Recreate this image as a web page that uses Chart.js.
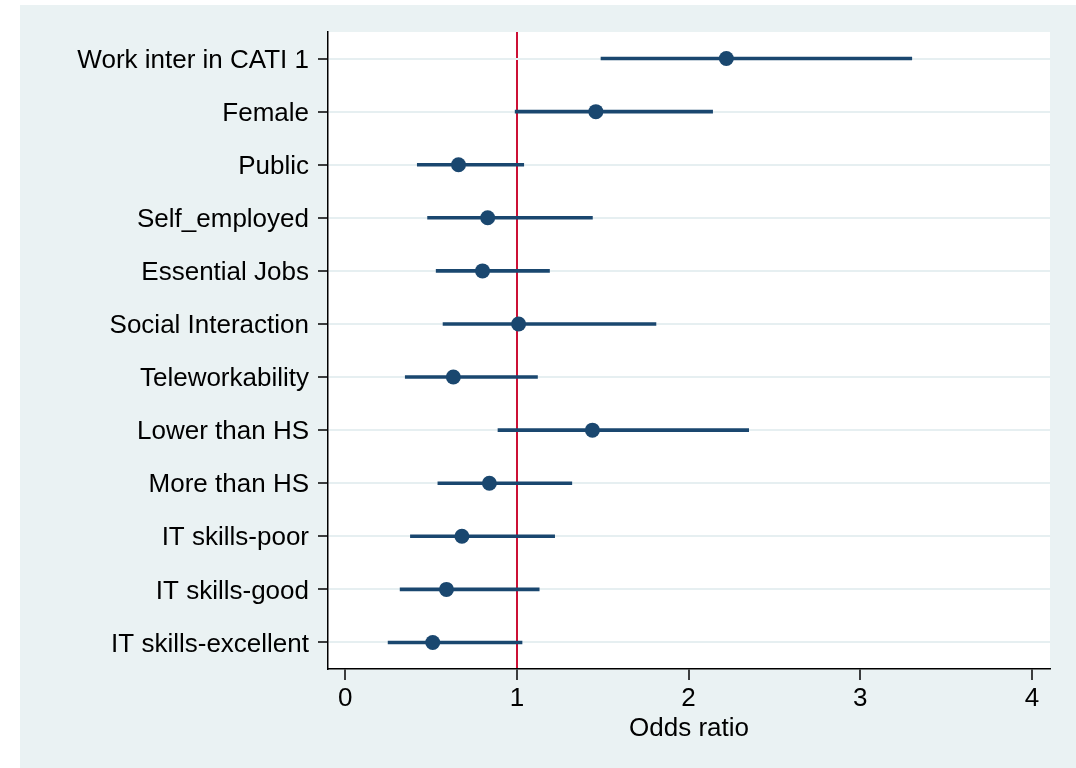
<!DOCTYPE html>
<html>
<head>
<meta charset="utf-8">
<script src="https://cdn.jsdelivr.net/npm/chart.js@4/dist/chart.umd.min.js"></script>
<style>
  html, body { margin: 0; padding: 0; background: #fff; }
  #wrap { position: absolute; left: 20px; top: 5px; width: 1056px; height: 763px; background: #eaf2f3; }
</style>
</head>
<body>
<div id="wrap"><canvas id="myChart" width="1056" height="763"></canvas></div>
<script>
// data
var labels = ['Work inter in CATI 1', 'Female', 'Public', 'Self_employed', 'Essential Jobs',
  'Social Interaction', 'Teleworkability', 'Lower than HS', 'More than HS',
  'IT skills-poor', 'IT skills-good', 'IT skills-excellent'];
var oddsRatio = [2.22, 1.46, 0.66, 0.83, 0.80, 1.01, 0.63, 1.44, 0.84, 0.68, 0.59, 0.51];
var ciLow  = [1.49, 0.99, 0.42, 0.48, 0.53, 0.57, 0.35, 0.89, 0.54, 0.38, 0.32, 0.25];
var ciHigh = [3.30, 2.14, 1.04, 1.44, 1.19, 1.81, 1.12, 2.35, 1.32, 1.22, 1.13, 1.03];
var xTicks = [0, 1, 2, 3, 4];
var refLine = 1;

var navy = '#1a476f';
var font = { family: '"Liberation Sans", Arial, Helvetica, sans-serif', size: 26 };

// white plot region
var plotBg = {
  id: 'plotBg',
  beforeDraw: function(chart) {
    var a = chart.chartArea, c = chart.ctx;
    c.save();
    c.fillStyle = '#fff';
    c.fillRect(a.left, a.top, a.right - a.left, a.bottom - a.top);
    c.restore();
  }
};

var ciData = [];
for (var i = 0; i < labels.length; i++) ciData.push([ciLow[i], ciHigh[i]]);

var ctx = document.getElementById('myChart').getContext('2d');
var chart = new Chart(ctx, {
  type: 'bar',
  data: {
    labels: labels,
    datasets: [
      { type: 'line', data: oddsRatio, showLine: false, pointRadius: 7.5, pointHoverRadius: 7.5,
        pointBackgroundColor: navy, pointBorderWidth: 0, order: 0 },
      { type: 'bar', data: ciData, backgroundColor: navy, borderWidth: 0,
        barThickness: 3, order: 1 }
    ]
  },
  options: {
    indexAxis: 'y',
    responsive: false,
    animation: false,
    layout: { padding: { left: 0, top: 27, right: 26, bottom: 20 } },
    plugins: { legend: { display: false }, tooltip: { enabled: false } },
    scales: {
      x: {
        type: 'linear',
        min: -0.1,
        max: 4.105,
        afterBuildTicks: function(s) { s.ticks = xTicks.map(function(v) { return { value: v }; }); },
        afterFit: function(s) { s.height = 79; },
        border: { display: true, color: '#000', width: 1.5 },
        grid: {
          color: function(c) { return c.tick && c.tick.value === refLine ? '#cc1035' : 'rgba(0,0,0,0)'; },
          lineWidth: 2,
          tickColor: '#000',
          tickWidth: 1.5,
          tickLength: 11
        },
        ticks: { color: '#000', font: font, padding: 3, maxRotation: 0 },
        title: { display: true, text: 'Odds ratio', color: '#000', font: font, padding: { top: 0, bottom: 4 } }
      },
      y: {
        afterFit: function(s) { s.width = 308; },
        border: { display: true, color: '#000', width: 1.5 },
        grid: {
          offset: false,
          color: '#e6eff1',
          lineWidth: 2,
          tickColor: '#000',
          tickWidth: 1.5,
          tickLength: 10
        },
        ticks: { color: '#000', font: font, padding: 9, labelOffset: 2 }
      }
    }
  },
  plugins: [plotBg]
});
</script>
</body>
</html>
